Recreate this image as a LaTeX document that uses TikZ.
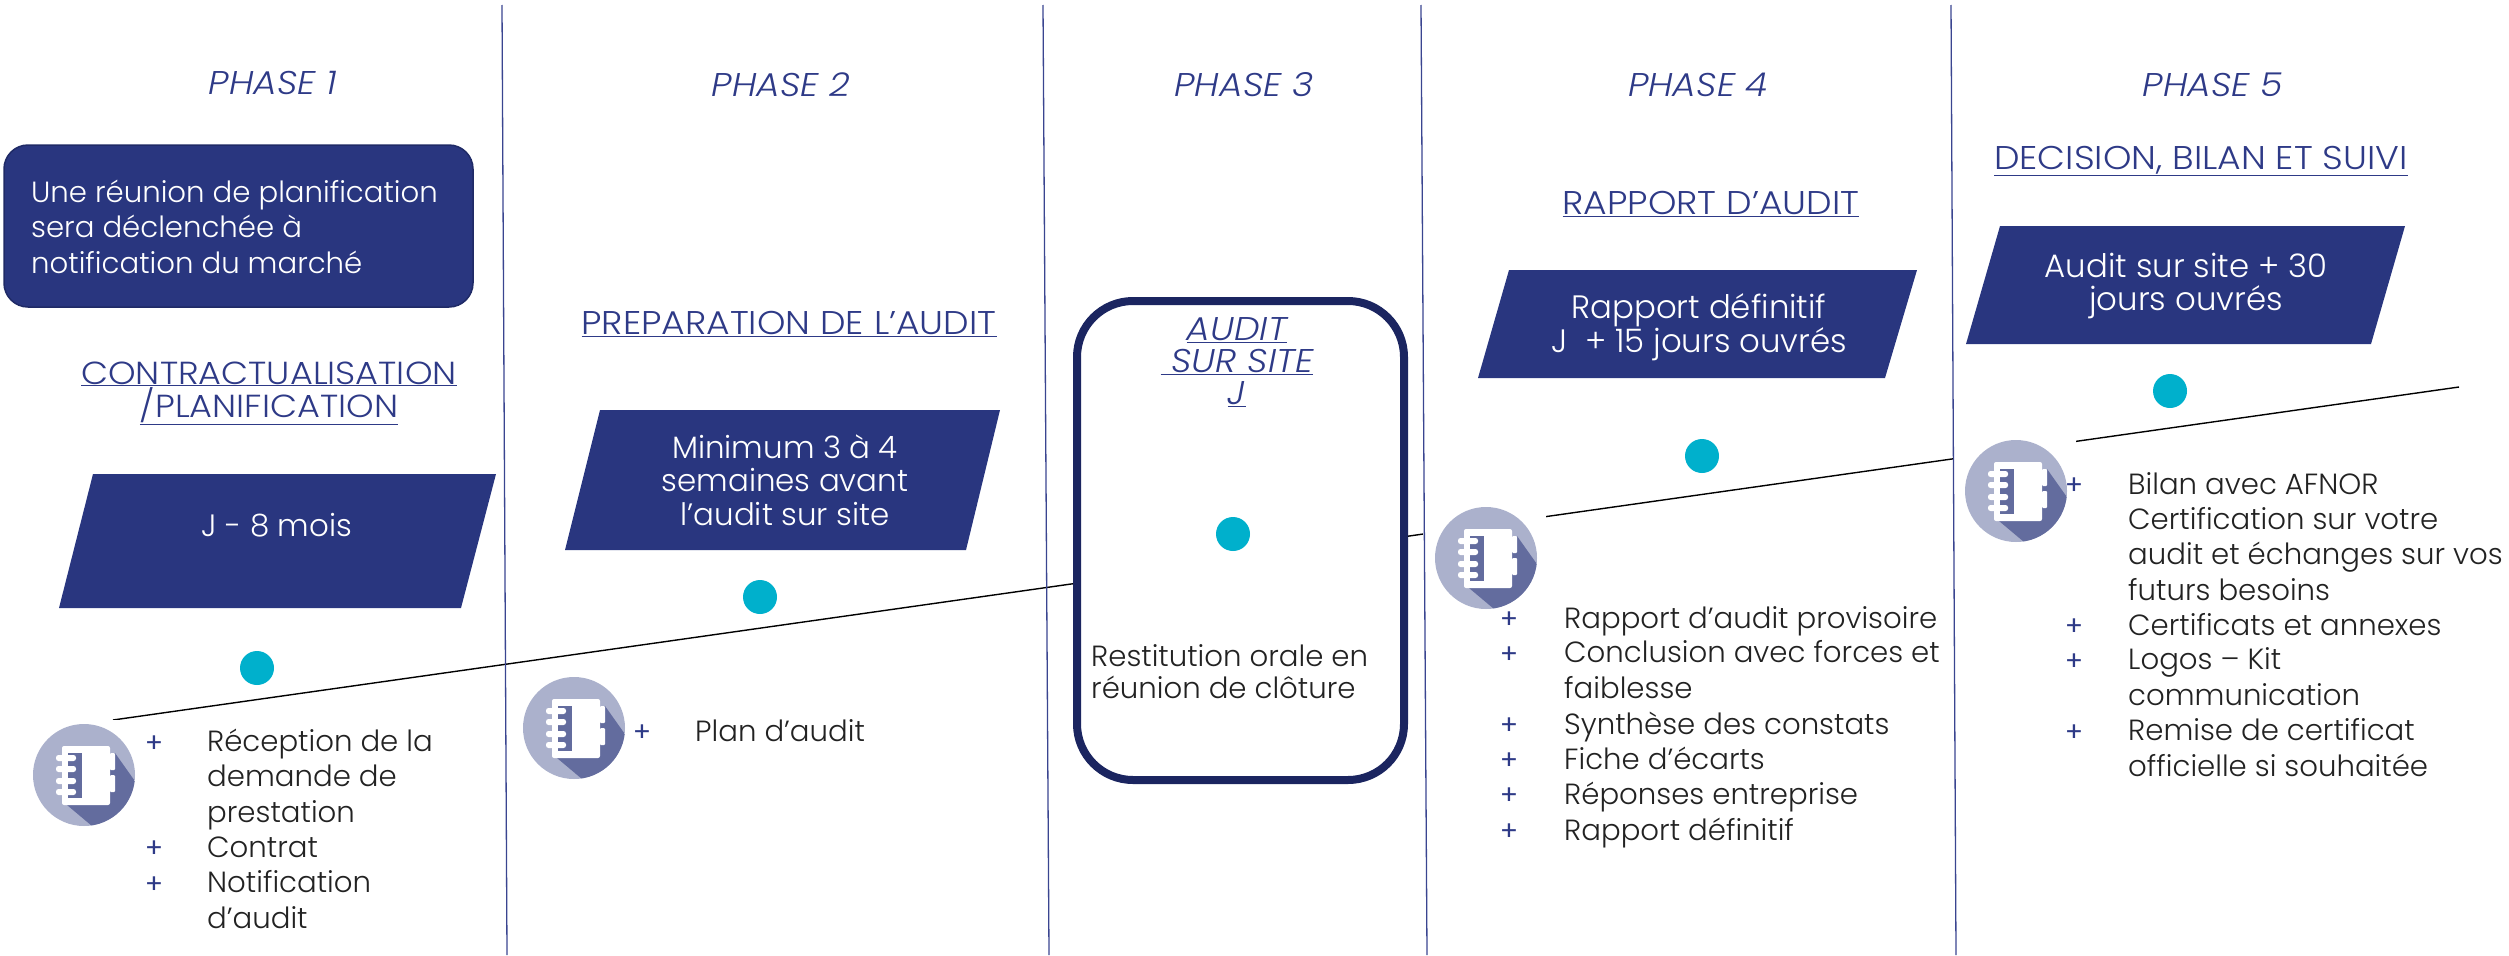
\documentclass[tikz,border=0pt]{standalone}
\usepackage{fontspec}
\setmainfont{Poppins Light}[ItalicFont={Poppins Light Italic}]
\newfontfamily\headfont{Poppins Light}[FakeStretch=1.1,ItalicFont={Poppins Light Italic},ItalicFeatures={FakeStretch=1.1}]
\newfontfamily\plusfont{Poppins}
\usepackage{xcolor}
\usetikzlibrary{backgrounds}
\definecolor{ruleColor}{HTML}{3A4590}
\definecolor{boxColor}{HTML}{29367F}
\definecolor{boxEdgeColor}{HTML}{1F2A66}
\definecolor{auditEdgeColor}{HTML}{1B2560}
\definecolor{titleColor}{HTML}{2E3A87}
\definecolor{dotColor}{HTML}{00B0CC}
\definecolor{bodyColor}{HTML}{222222}
\definecolor{iconLightColor}{HTML}{ABB1CC}
\definecolor{iconDarkColor}{HTML}{636C9E}
\tikzset{
  rulerline/.style={color=ruleColor, line width=1.3bp},
  timeline/.style={color=black, line width=1.4bp},
  phasetitle/.style={text=titleColor, font=\headfont\fontsize{33}{32}\selectfont\itshape, inner sep=0pt},
  headtitle/.style={text=titleColor, align=center, font=\headfont\fontsize{33}{32}\selectfont, inner sep=0pt},
  slantbox/.style={fill=boxColor},
  boxtext/.style={text=white, align=center, font=\fontsize{31}{33.6}\selectfont, inner sep=0pt},
  boxtextwide/.style={boxtext, font=\fontsize{32.5}{33.6}\selectfont},
  itemtext/.style={text=bodyColor, align=left, anchor=base west, inner sep=0pt, font=\fontsize{29.3}{35.2}\selectfont},
  plusmark/.style={text=titleColor, anchor=base, inner sep=0pt, font=\plusfont\fontsize{27}{27}\selectfont},
  stagedot/.style={circle, inner sep=0pt, minimum size=34bp, fill=dotColor},
  pics/noteicon/.style={code={
    \fill[white] (-63,-55) rectangle (60,58);
    \fill[iconLightColor] (0,0) circle (51);
    \begin{scope}
    \clip (0,0) circle (51);
    \fill[iconDarkColor] (31,-22) -- (75,40) -- (40,90) -- (8,51) -- (-17,30) -- cycle;
    \end{scope}
    \fill[white, rounded corners=2bp] (-22,-29) rectangle (26,30);
    \fill[white, rounded corners=1bp] (26,-22) rectangle (31,-5);
    \fill[white, rounded corners=1bp] (26,0) rectangle (31,17);
    \fill[iconDarkColor] (-16,-22) rectangle (-2,23);
    \fill[white, rounded corners=2.5bp] (-28,-20) rectangle (-8,-14);
    \fill[white, rounded corners=2.5bp] (-28,-9) rectangle (-8,-3);
    \fill[white, rounded corners=2.5bp] (-28,3) rectangle (-8,9);
    \fill[white, rounded corners=2.5bp] (-28,14) rectangle (-8,20);
  }}
}

\begin{document}
\begin{tikzpicture}[x=1bp,y=-1bp]
\useasboundingbox (0,0) rectangle (2509,955);

% time line
\coordinate (lineStart) at (113,720);
\coordinate (lineEnd) at (2459,387);
\draw[timeline] (lineStart) -- (lineEnd);

% icons
\pic (iconA) at (84,775) {noteicon};
\pic (iconB) at (574,728) {noteicon};
\pic (iconD) at (1486,558) {noteicon};
\pic (iconE) at (2016,491) {noteicon};

% rules between the phases
\coordinate (ruleTopA) at (502,5);
\coordinate (ruleBotA) at (507,955);
\coordinate (ruleTopB) at (1043,5);
\coordinate (ruleBotB) at (1049,955);
\coordinate (ruleTopC) at (1421,5);
\coordinate (ruleBotC) at (1427,955);
\coordinate (ruleTopD) at (1951,5);
\coordinate (ruleBotD) at (1956,955);
\draw[rulerline] (ruleTopA) -- (ruleBotA);
\draw[rulerline] (ruleTopB) -- (ruleBotB);
\draw[rulerline] (ruleTopC) -- (ruleBotC);
\draw[rulerline] (ruleTopD) -- (ruleBotD);

% phase titles
\node[phasetitle] (phaseA) at (273,83) {PHASE 1};
\node[phasetitle] (phaseB) at (781,85) {PHASE 2};
\node[phasetitle] (phaseC) at (1244,85) {PHASE 3};
\node[phasetitle] (phaseD) at (1698,85) {PHASE 4};
\node[phasetitle] (phaseE) at (2213,85) {PHASE 5};

% planning box
\draw[fill=boxColor, draw=boxEdgeColor, line width=1.5bp, rounded corners=24bp]
(4,145) rectangle (473,307);
\node[text=white, align=left, anchor=base west, inner sep=0pt, font=\fontsize{29.3}{35.4}\selectfont] (planText) at (31,273)
{Une réunion de planification\\sera déclenchée à\\notification du marché};

% headings
\node[headtitle, font=\headfont\fontsize{32}{32}\selectfont] (headA) at (269,393) {\underline{CONTRACTUALISATION}\\\underline{/PLANIFICATION}};
\node[headtitle] (headB) at (789,324) {\underline{PREPARATION DE L’AUDIT}};
\node[headtitle] (headD) at (1711,204) {\underline{RAPPORT D’AUDIT}};
\node[headtitle] (headE) at (2201,161) {\underline{DECISION, BILAN ET SUIVI}};

% slanted boxes
\fill[slantbox] (93,474) -- (496,474) -- (461,608) -- (59,608) -- cycle;
\node[boxtext] (delayA) at (277,525) {J - 8 mois};
\fill[slantbox] (600,410) -- (1000,410) -- (966,550) -- (565,550) -- cycle;
\node[boxtext] (delayB) at (785,480) {Minimum 3 à 4\\semaines avant\\l’audit sur site};
\fill[slantbox] (1509,270) -- (1917,270) -- (1885,378) -- (1478,378) -- cycle;
\node[boxtextwide] (delayD) at (1699,327) {Rapport définitif\\J~ + 15 jours ouvrés};
\fill[slantbox] (2000,226) -- (2405,226) -- (2371,344) -- (1966,344) -- cycle;
\node[boxtextwide] (delayE) at (2186,286) {Audit sur site + 30\\jours ouvrés};

% audit box
\draw[draw=auditEdgeColor, fill=white, line width=8bp, rounded corners=56bp]
(1077,301) rectangle (1404,780);
\node[phasetitle, align=center, font=\headfont\fontsize{33}{32}\selectfont\itshape] (headC) at (1237,362) {\underline{AUDIT}\\\underline{~SUR SITE}\\\underline{J}};
\node[itemtext, font=\fontsize{29.3}{31.5}\selectfont] (closing) at (1091,698) {Restitution orale en\\réunion de clôture};

% dots
\node[stagedot] (dotA) at (257,668) {};
\node[stagedot] (dotB) at (760,597) {};
\node[stagedot] (dotC) at (1233,534) {};
\node[stagedot] (dotD) at (1702,456) {};
\node[stagedot] (dotE) at (2170,391) {};

% lists
\begin{scope}
\node[plusmark] (plusAa) at (154,752) {+};
\node[itemtext] (itemAa) at (207,822) {Réception de la\\demande de\\prestation};
\node[plusmark] (plusAb) at (154,857) {+};
\node[itemtext] (itemAb) at (207,857) {Contrat};
\node[plusmark] (plusAc) at (154,893) {+};
\node[itemtext] (itemAc) at (207,928) {Notification\\d’audit};
\end{scope}

\begin{scope}
\node[plusmark] (plusBa) at (642,741) {+};
\node[itemtext] (itemBa) at (695,741) {Plan d’audit};
\end{scope}

\begin{scope}
\node[plusmark] (plusDa) at (1509,628) {+};
\node[itemtext] (itemDa) at (1564,628) {Rapport d’audit provisoire};
\node[plusmark] (plusDb) at (1509,663) {+};
\node[itemtext] (itemDb) at (1564,698) {Conclusion avec forces et\\faiblesse};
\node[plusmark] (plusDc) at (1509,734) {+};
\node[itemtext] (itemDc) at (1564,734) {Synthèse des constats};
\node[plusmark] (plusDd) at (1509,769) {+};
\node[itemtext] (itemDd) at (1564,769) {Fiche d’écarts};
\node[plusmark] (plusDe) at (1509,804) {+};
\node[itemtext] (itemDe) at (1564,804) {Réponses entreprise};
\node[plusmark] (plusDf) at (1509,840) {+};
\node[itemtext] (itemDf) at (1564,840) {Rapport définitif};
\end{scope}

\begin{scope}
\node[plusmark] (plusEa) at (2074,494) {+};
\node[itemtext] (itemEa) at (2128,600) {Bilan avec AFNOR\\Certification sur votre\\audit et échanges sur vos\\futurs besoins};
\node[plusmark] (plusEb) at (2074,635) {+};
\node[itemtext] (itemEb) at (2128,635) {Certificats et annexes};
\node[plusmark] (plusEc) at (2074,670) {+};
\node[itemtext] (itemEc) at (2128,705) {Logos – Kit\\communication};
\node[plusmark] (plusEd) at (2074,741) {+};
\node[itemtext] (itemEd) at (2128,776) {Remise de certificat\\officielle si souhaitée};
\end{scope}

\end{tikzpicture}
\end{document}
